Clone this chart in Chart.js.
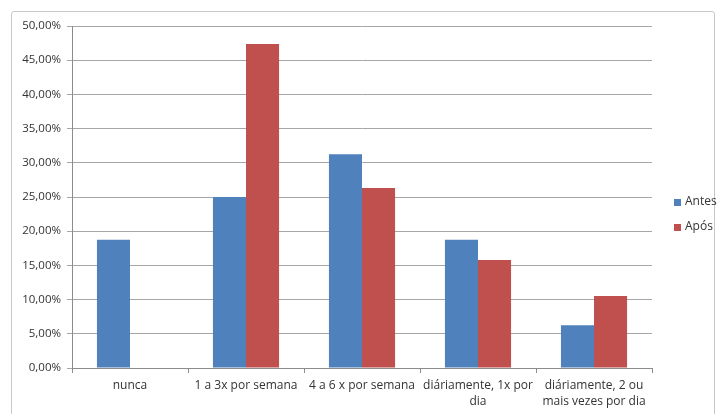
<!DOCTYPE html>
<html>
<head>
<meta charset="utf-8">
<script src="https://cdn.jsdelivr.net/npm/chart.js@4/dist/chart.umd.min.js"></script>
<style>
  html, body { margin: 0; padding: 0; background: #fff; }
  #wrap { position: relative; width: 719px; height: 414px; }
  #frame { position: absolute; left: 11px; top: 11px; width: 704px; height: 410px;
           border: 1px solid #c8c8c8; border-radius: 3px; box-sizing: border-box; }
  canvas { position: absolute; left: 0; top: 0; }
</style>
</head>
<body>
<div id="wrap">
  <div id="frame"></div>
  <canvas id="c" width="719" height="414"></canvas>
</div>
<script>
const categories = [
  "nunca",
  "1 a 3x por semana",
  "4 a 6 x por semana",
  ["diáriamente, 1x por", "dia"],
  ["diáriamente, 2 ou", "mais vezes por dia"]
];
const antes = [18.75, 25.00, 31.25, 18.75, 6.25];
const apos  = [0, 47.37, 26.32, 15.79, 10.53];
const yTickLabels = ["0,00%", "5,00%", "10,00%", "15,00%", "20,00%", "25,00%", "30,00%", "35,00%", "40,00%", "45,00%", "50,00%"];
const seriesNames = ["Antes", "Após"];
const seriesColors = ["#4f81bd", "#c0504d"];

const FONT = "'Open Sans', 'Noto Sans', sans-serif";
const TEXT = "#333333";

const legendPlugin = {
  id: 'sideLegend',
  afterDraw(chart) {
    const ctx = chart.ctx;
    ctx.save();
    ctx.font = "12px " + FONT;
    ctx.textBaseline = "middle";
    ctx.textAlign = "left";
    chart.data.datasets.forEach((ds, i) => {
      const y = 202 + i * 25;
      ctx.fillStyle = ds.backgroundColor;
      ctx.fillRect(674, y - 3, 7, 7);
      ctx.fillStyle = TEXT;
      ctx.fillText(ds.label, 685, y);
    });
    ctx.restore();
  }
};

new Chart(document.getElementById('c'), {
  type: 'bar',
  data: {
    labels: categories,
    datasets: [
      { label: seriesNames[0], data: antes, backgroundColor: seriesColors[0] },
      { label: seriesNames[1], data: apos, backgroundColor: seriesColors[1] }
    ]
  },
  options: {
    responsive: false,
    animation: false,
    devicePixelRatio: 1,
    layout: { padding: { left: 0, top: 26, right: 67, bottom: 0 } },
    plugins: { legend: { display: false }, tooltip: { enabled: false } },
    datasets: { bar: { categoryPercentage: 0.57, barPercentage: 1.0, borderWidth: 0 } },
    scales: {
      x: {
        afterFit(s) { s.height = 414 - 368; },
        grid: { drawOnChartArea: false, drawTicks: true, tickLength: 5, color: '#8c8c8c', offset: true },
        border: { color: '#8c8c8c', width: 1 },
        ticks: { color: TEXT, font: { family: FONT, size: 12, lineHeight: 1.33 }, padding: 5, maxRotation: 0, autoSkip: false }
      },
      y: {
        min: 0, max: 50,
        afterFit(s) { s.width = 72; },
        grid: { color: '#a6a6a6', lineWidth: 1, drawTicks: true, tickLength: 5 },
        border: { color: '#8c8c8c', width: 1 },
        ticks: {
          stepSize: 5,
          color: TEXT,
          font: { family: FONT, size: 11.5 },
          padding: 6,
          callback: (v, i) => yTickLabels[i]
        }
      }
    }
  },
  plugins: [legendPlugin]
});
</script>
</body>
</html>
